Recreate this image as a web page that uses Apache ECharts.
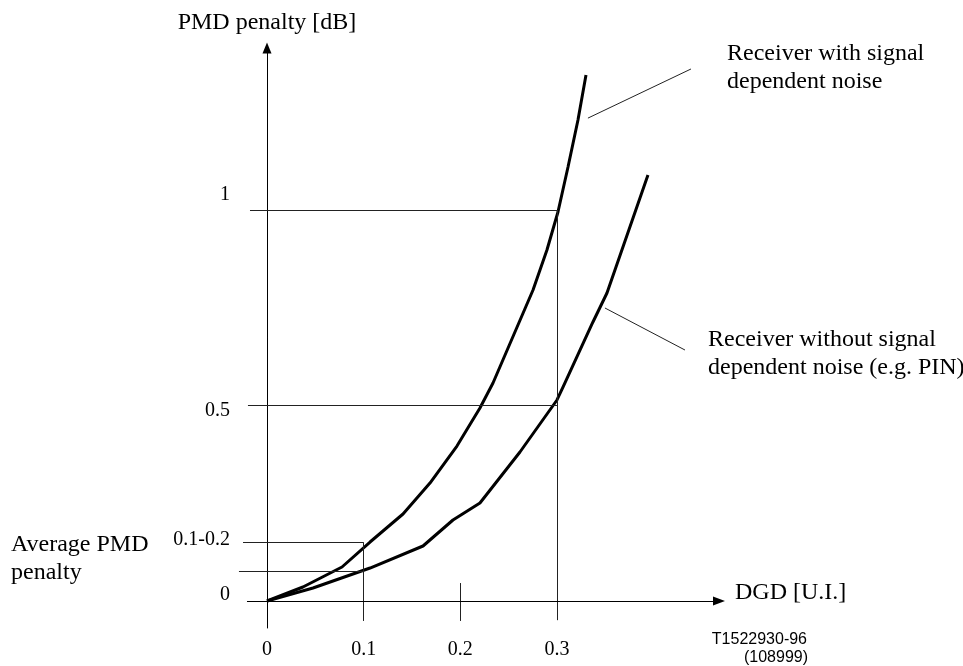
<!DOCTYPE html>
<html>
<head>
<meta charset="utf-8">
<script src="https://cdn.jsdelivr.net/npm/echarts@6/dist/echarts.min.js"></script>
<style>
html,body{margin:0;padding:0;background:#fff;}
#chart{width:963px;height:666px;}
</style>
</head>
<body>
<div id="chart"></div>
<script>
// Curve: receiver with signal dependent noise
const dgdWith      = [0, 0.0372, 0.0776, 0.1066, 0.1407, 0.1686, 0.1965, 0.2203, 0.2338, 0.2752, 0.2896, 0.3010, 0.3114, 0.3217, 0.3300];
const penaltyWith  = [0, 0.0358, 0.0870, 0.1509, 0.2225, 0.3018, 0.3964, 0.4936, 0.5575, 0.7954, 0.8977, 0.9949, 1.1100, 1.2302, 1.3453];
// Curve: receiver without signal dependent noise (e.g. PIN)
const dgdWithout     = [0, 0.0476, 0.1066, 0.1614, 0.1924, 0.2203, 0.2617, 0.3000, 0.3062, 0.3372, 0.3517, 0.3941];
const penaltyWithout = [0, 0.0332, 0.0844, 0.1407, 0.2072, 0.2506, 0.3811, 0.5141, 0.5473, 0.7136, 0.7877, 1.0895];
// Axis ticks
const xTickValues = [0, 0.1, 0.2, 0.3];
const xTickLabels = ['0', '0.1', '0.2', '0.3'];
const yTickValues = [0, 0.15, 0.5, 1];
const yTickLabels = ['0', '0.1-0.2', '0.5', '1'];
// Reference levels
const avgPenaltyHigh = 0.15;
const avgPenaltyLow = 0.077;

const serif = '"Liberation Serif", "Times New Roman", serif';
const sans = '"Liberation Sans", Arial, sans-serif';

function pairs(xs, ys) { return xs.map((x, i) => [x, ys[i]]); }
function seg(a, b) { return [{ coord: a }, { coord: b }]; }

const X_MIN = -0.03, X_MAX = 0.4738;
const Y_MIN = -0.069, Y_MAX = 1.4143;

const chart = echarts.init(document.getElementById('chart'), null, { renderer: 'canvas' });

const guideStyle = { color: '#222', width: 1, type: 'solid' };

chart.setOption({
  backgroundColor: '#fff',
  animation: false,
  grid: { left: 238, right: 238, top: 48, bottom: 38, containLabel: false, outerBoundsMode: 'none' },
  xAxis: {
    type: 'value',
    min: X_MIN, max: X_MAX,
    name: 'DGD [U.I.]',
    nameLocation: 'end',
    nameGap: 10,
    nameTextStyle: { fontFamily: serif, fontSize: 24, color: '#000', verticalAlign: 'bottom', lineHeight: 16 },
    axisLine: { show: false, onZero: true },
    axisTick: { show: false },
    splitLine: { show: false },
    axisLabel: {
      customValues: xTickValues,
      formatter: v => { const i = xTickValues.findIndex(t => Math.abs(t - v) < 1e-6); return i >= 0 ? xTickLabels[i] : ''; },
      margin: 12,
      fontFamily: serif, fontSize: 20, color: '#000'
    }
  },
  yAxis: {
    type: 'value',
    min: Y_MIN, max: Y_MAX,
    name: 'PMD penalty [dB]',
    nameLocation: 'end',
    nameGap: 13,
    nameTextStyle: { fontFamily: serif, fontSize: 24, color: '#000', align: 'center' },
    axisLine: { onZero: true, lineStyle: { color: '#000', width: 1 }, symbol: ['none', 'triangle'], symbolSize: [9, 11] },
    axisTick: { show: false },
    splitLine: { show: false },
    axisLabel: {
      customValues: yTickValues,
      formatter: v => { const i = yTickValues.findIndex(t => Math.abs(t - v) < 1e-6); return i >= 0 ? '{s' + i + '|' + yTickLabels[i] + '}' : ''; },
      margin: 8,
      fontFamily: serif, fontSize: 20, color: '#000',
      rich: {
        s0: { fontFamily: serif, fontSize: 20, color: '#000', padding: [0, 0, 12, 0] },
        s1: { fontFamily: serif, fontSize: 20, color: '#000', padding: [0, 0, 6, 0] },
        s2: { fontFamily: serif, fontSize: 20, color: '#000', padding: [10, 0, 0, 0] },
        s3: { fontFamily: serif, fontSize: 20, color: '#000', padding: [0, 0, 30, 0] }
      }
    }
  },
  series: [
    {
      name: 'guides',
      type: 'line',
      data: [],
      silent: true,
      markLine: {
        silent: true,
        symbol: ['none', 'none'],
        label: { show: false },
        lineStyle: guideStyle,
        emphasis: { disabled: true },
        data: [
          seg([-0.0176, 1], [0.3, 1]),
          seg([-0.0197, 0.5], [0.3, 0.5]),
          seg([-0.0248, avgPenaltyHigh], [0.1, avgPenaltyHigh]),
          seg([-0.029, avgPenaltyLow], [0.1, avgPenaltyLow]),
          seg([0.1, avgPenaltyHigh], [0.1, -0.051]),
          seg([0.2, 0.046], [0.2, -0.051]),
          seg([0.3, 1], [0.3, -0.049]),
          seg([0.332, 1.235], [0.4386, 1.3606]),
          seg([0.3496, 0.7494], [0.4324, 0.6419])
        ]
      }
    },
    {
      name: 'x axis',
      type: 'line',
      data: [],
      silent: true,
      markLine: {
        silent: true,
        label: { show: false },
        emphasis: { disabled: true },
        symbol: ['none', 'triangle'],
        symbolSize: [9, 12],
        lineStyle: { color: '#000', width: 1, type: 'solid' },
        data: [ seg([-0.0207, 0], [0.4676, 0]) ]
      }
    },
    {
      name: 'Receiver with signal dependent noise',
      type: 'line',
      data: pairs(dgdWith, penaltyWith),
      showSymbol: false,
      smooth: false,
      lineStyle: { color: '#000', width: 3 },
      silent: true
    },
    {
      name: 'Receiver without signal dependent noise (e.g. PIN)',
      type: 'line',
      data: pairs(dgdWithout, penaltyWithout),
      showSymbol: false,
      smooth: false,
      lineStyle: { color: '#000', width: 3 },
      silent: true
    }
  ],
  graphic: [
    { type: 'text', x: 727, y: 40, silent: true,
      style: { text: 'Receiver with signal\ndependent noise', font: '24px ' + serif, fill: '#000', lineHeight: 28, verticalAlign: 'top', textVerticalAlign: 'top' } },
    { type: 'text', x: 708, y: 326, silent: true,
      style: { text: 'Receiver without signal\ndependent noise (e.g. PIN)', font: '24px ' + serif, fill: '#000', lineHeight: 28, verticalAlign: 'top', textVerticalAlign: 'top' } },
    { type: 'text', x: 11, y: 531, silent: true,
      style: { text: 'Average PMD\npenalty', font: '24px ' + serif, fill: '#000', lineHeight: 28, verticalAlign: 'top', textVerticalAlign: 'top' } },
    { type: 'text', x: 807, y: 640, silent: true,
      style: { text: 'T1522930-96', font: '16px ' + sans, fill: '#000', align: 'right', textAlign: 'right', verticalAlign: 'middle', textVerticalAlign: 'middle' } },
    { type: 'text', x: 808, y: 658, silent: true,
      style: { text: '(108999)', font: '16px ' + sans, fill: '#000', align: 'right', textAlign: 'right', verticalAlign: 'middle', textVerticalAlign: 'middle' } }
  ]
});
</script>
</body>
</html>
